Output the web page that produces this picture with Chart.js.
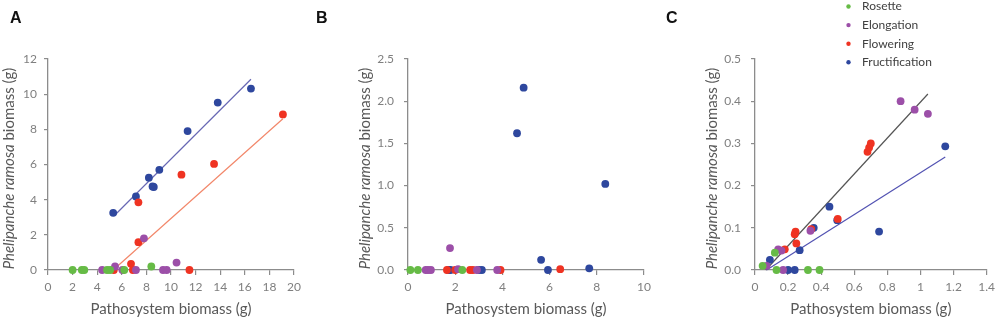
<!DOCTYPE html>
<html lang="en">
  <head>
    <meta charset="UTF-8" />
    <title>Phelipanche ramosa biomass</title>
    <script src="https://cdn.jsdelivr.net/npm/chart.js"></script>
    <style>
      * {
        box-sizing: border-box;
        margin: 0;
        padding: 0;
      }
      body {
        width: 1000px;
        height: 320px;
        background: #fff;
        position: relative;
        overflow: hidden;
      }
      .panel {
        position: absolute;
        top: 0;
        height: 320px;
      }
      .letter {
        position: absolute;
        top: 9px;
        font: bold 16px "Liberation Sans", Arial, sans-serif;
        color: #111;
      }
    </style>
  </head>
  <body>
    <div class="panel" style="left: 0; width: 310px"><canvas id="chartA"></canvas></div>
    <div class="panel" style="left: 340px; width: 320px"><canvas id="chartB"></canvas></div>
    <div class="panel" style="left: 670px; width: 330px"><canvas id="chartC"></canvas></div>
    <div class="letter" style="left: 10px">A</div>
    <div class="letter" style="left: 316px">B</div>
    <div class="letter" style="left: 666px">C</div>

    <script>
      const stages = ["Rosette", "Elongation", "Flowering", "Fructification"];
      const stageColors = ["#66bb46", "#9c4fa8", "#ef3322", "#2e479e"];
      const xTitle = "Pathosystem biomass (g)";
      const yTitleItalic = "Phelipanche ramosa";
      const yTitleRest = " biomass (g)";

      // panel A  [pathosystem, phelipanche]
      const aRosette = [[2.0, 0], [2.75, 0], [2.95, 0], [4.8, 0], [5.05, 0], [6.2, 0], [8.4, 0.2]];
      const aElongation = [[4.4, 0], [5.45, 0.2], [6.05, 0], [7.15, 0], [7.8, 1.8], [9.35, 0], [9.65, 0], [10.45, 0.42]];
      const aFlowering = [[5.35, 0], [6.75, 0.35], [6.9, 0], [7.35, 1.58], [7.35, 3.85], [10.85, 5.42], [11.5, 0], [13.5, 6.03], [19.1, 8.85]];
      const aFructification = [[5.3, 3.25], [7.15, 4.18], [8.2, 5.25], [8.5, 4.75], [8.6, 4.72], [9.05, 5.7], [11.35, 7.9], [13.8, 9.52], [16.5, 10.32]];
      const aFitBlue = [[5.4, 3.1], [16.5, 10.85]];
      const aFitOrange = [[5.3, 0], [19.1, 8.6]];

      // panel B
      const bRosette = [[0.1, 0], [0.42, 0], [2.3, 0]];
      const bElongation = [[0.75, 0], [0.85, 0], [0.97, 0], [1.78, 0.26], [2.12, 0.01], [2.92, 0], [3.78, 0]];
      const bFlowering = [[1.65, 0], [2.0, 0], [2.63, 0], [2.75, 0], [3.92, 0], [6.45, 0.01]];
      const bFructification = [[1.72, 0], [1.8, 0], [3.0, 0], [3.13, 0], [4.62, 1.62], [4.9, 2.16], [5.64, 0.12], [5.93, 0], [7.68, 0.02], [8.36, 1.02]];

      // panel C
      const cRosette = [[0.046, 0.01], [0.12, 0.041], [0.13, 0], [0.32, 0], [0.39, 0]];
      const cElongation = [[0.07, 0.01], [0.14, 0.049], [0.16, 0.046], [0.17, 0], [0.335, 0.093], [0.88, 0.4], [0.965, 0.38], [1.045, 0.37]];
      const cFlowering = [[0.18, 0.049], [0.24, 0.085], [0.245, 0.091], [0.25, 0.063], [0.34, 0.097], [0.5, 0.121], [0.68, 0.28], [0.69, 0.29], [0.7, 0.3]];
      const cFructification = [[0.09, 0.024], [0.2, 0], [0.24, 0], [0.27, 0.047], [0.355, 0.1], [0.45, 0.15], [0.497, 0.118], [0.75, 0.091], [1.15, 0.293]];
      const cFitBlack = [[0.065, 0], [1.045, 0.417]];
      const cFitBlue = [[0.07, 0], [1.15, 0.268]];

      const axisColor = "#8c8c8c";
      const tickColor = "#7f7f7f";
      const titleColor = "#595959";

      const toXY = (arr) => arr.map(([x, y]) => ({ x, y }));

      function pointSets(series) {
        return series.map((s, i) => ({
          label: stages[i],
          data: toXY(s),
          backgroundColor: stageColors[i],
          borderColor: stageColors[i],
          borderWidth: 0,
          pointRadius: 3.9,
          clip: false,
        }));
      }

      function fitLine(pts, color) {
        return {
          label: "fit",
          data: toXY(pts),
          showLine: true,
          borderColor: color,
          borderWidth: 1.2,
          pointRadius: 0,
          clip: false,
        };
      }

      const axisTitles = {
        id: "axisTitles",
        afterDraw(chart, args, opts) {
          const { ctx, chartArea: a } = chart;
          ctx.save();
          ctx.fillStyle = titleColor;
          ctx.font = "15px Lato";
          ctx.textAlign = "center";
          ctx.textBaseline = "middle";
          ctx.fillText(xTitle, (a.left + a.right) / 2, 309);

          ctx.translate(a.left - opts.yOffset, (a.top + a.bottom) / 2 + 4);
          ctx.rotate(-Math.PI / 2);
          ctx.font = "italic 15px Lato";
          const w1 = ctx.measureText(yTitleItalic).width;
          ctx.font = "15px Lato";
          const w2 = ctx.measureText(yTitleRest).width;
          const x0 = -(w1 + w2) / 2;
          ctx.textAlign = "left";
          ctx.font = "italic 15px Lato";
          ctx.fillText(yTitleItalic, x0, 0);
          ctx.font = "15px Lato";
          ctx.fillText(yTitleRest, x0 + w1, 0);
          ctx.restore();
        },
      };

      // legend lives above panel C
      const stageLegend = {
        id: "stageLegend",
        afterDraw(chart, args, opts) {
          if (!opts.show) return;
          const ctx = chart.ctx;
          ctx.save();
          ctx.font = "12px Lato";
          ctx.textBaseline = "middle";
          ctx.textAlign = "left";
          stages.forEach((name, i) => {
            const y = 6.5 + i * 18.6;
            ctx.fillStyle = stageColors[i];
            ctx.beginPath();
            ctx.arc(178.5, y, 2.2, 0, Math.PI * 2);
            ctx.fill();
            ctx.fillStyle = "#404040";
            ctx.fillText(name, 192, y);
          });
          ctx.restore();
        },
      };

      function makeChart(id, datasets, o) {
        return new Chart(document.getElementById(id), {
          type: "scatter",
          data: { datasets },
          plugins: [axisTitles, stageLegend],
          options: {
            responsive: true,
            maintainAspectRatio: false,
            animation: false,
            events: [],
            layout: { padding: { top: 59, right: o.padRight, left: 0, bottom: 0 } },
            plugins: {
              legend: { display: false },
              tooltip: { enabled: false },
              axisTitles: { yOffset: o.yTitleOffset },
              stageLegend: { show: !!o.legend },
            },
            scales: {
              x: {
                type: "linear",
                min: 0,
                max: o.xMax,
                afterFit: (s) => {
                  s.height = 50;
                },
                ticks: {
                  stepSize: o.xStep,
                  autoSkip: false,
                  maxRotation: 0,
                  color: tickColor,
                  font: { family: "Lato", size: 12 },
                  padding: 5,
                  callback: o.xFmt,
                },
                grid: { drawOnChartArea: false, tickLength: 5, color: axisColor, lineWidth: 1.2 },
                border: { color: axisColor, width: 1.3 },
              },
              y: {
                type: "linear",
                min: 0,
                max: o.yMax,
                afterFit: (s) => {
                  s.width = o.yWidth;
                },
                ticks: {
                  stepSize: o.yStep,
                  autoSkip: false,
                  color: tickColor,
                  font: { family: "Lato", size: 12 },
                  padding: o.yPad,
                  callback: o.yFmt,
                },
                grid: { drawOnChartArea: false, tickLength: 4, color: axisColor, lineWidth: 1.2 },
                border: { color: axisColor, width: 1.3 },
              },
            },
          },
        });
      }

      const plain = (v) => String(Math.round(v * 10) / 10);
      const oneDec = (v) => v.toFixed(1);

      makeChart(
        "chartA",
        [
          ...pointSets([aRosette, aElongation, aFlowering, aFructification]),
          fitLine(aFitBlue, "#6868b4"),
          fitLine(aFitOrange, "#f2876a"),
        ],
        { xMax: 20, xStep: 2, yMax: 12, yStep: 2, yWidth: 48, padRight: 16, yPad: 7, yTitleOffset: 38.5, xFmt: plain, yFmt: plain }
      );

      makeChart(
        "chartB",
        pointSets([bRosette, bElongation, bFlowering, bFructification]),
        { xMax: 10, xStep: 2, yMax: 2.5, yStep: 0.5, yWidth: 68, padRight: 16, yPad: 10, yTitleOffset: 43, xFmt: plain, yFmt: oneDec }
      );

      makeChart(
        "chartC",
        [
          ...pointSets([cRosette, cElongation, cFlowering, cFructification]),
          fitLine(cFitBlack, "#555555"),
          fitLine(cFitBlue, "#5252b2"),
        ],
        { xMax: 1.4, xStep: 0.2, yMax: 0.5, yStep: 0.1, yWidth: 85, padRight: 12, yPad: 10, yTitleOffset: 43, xFmt: plain, yFmt: oneDec, legend: true }
      );
    </script>
  </body>
</html>
